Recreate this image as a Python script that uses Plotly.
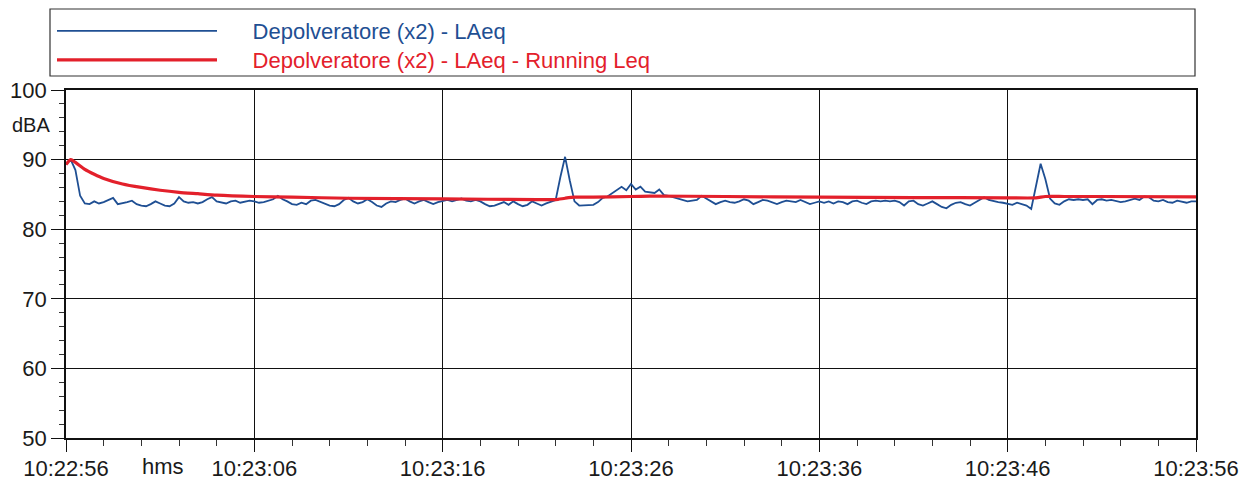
import datetime as dt
import plotly.graph_objects as go

START = dt.datetime(2024, 1, 1, 10, 22, 56)

# Depolveratore (x2) - LAeq, sampled every 0.25 s (dBA)
laeq_step_s = 0.25
laeq_values = [
    89.3, 90.0, 88.5, 84.8, 83.7, 83.6, 84.0, 83.7,
    83.9, 84.2, 84.5, 83.6, 83.7, 83.9, 84.1, 83.6,
    83.4, 83.3, 83.6, 84.0, 83.7, 83.4, 83.3, 83.7,
    84.6, 84.0, 83.8, 83.9, 83.7, 83.9, 84.3, 84.6,
    84.0, 83.8, 83.7, 84.0, 84.1, 83.8, 83.9, 84.1,
    84.0, 83.8, 83.9, 84.1, 84.3, 84.8, 84.3, 84.0,
    83.6, 83.5, 83.8, 83.6, 84.1, 84.2, 83.9, 83.7,
    83.4, 83.3, 83.6, 84.2, 84.5, 84.0, 83.7, 83.9,
    84.3, 83.9, 83.4, 83.2, 83.7, 84.0, 83.9, 84.2,
    84.4, 84.0, 83.7, 84.0, 84.2, 83.9, 83.6, 83.9,
    84.1, 84.2, 84.0, 84.2, 84.4, 84.1, 84.0, 84.2,
    84.0, 83.6, 83.3, 83.4, 83.7, 83.9, 83.5, 84.0,
    83.6, 83.3, 83.5, 84.0, 83.7, 83.4, 83.7, 84.0,
    84.2, 87.5, 90.4, 87.0, 84.0, 83.4, 83.4, 83.4,
    83.5, 83.9, 84.5, 84.7, 85.2, 85.6, 86.1, 85.6,
    86.5, 85.7, 86.1, 85.4, 85.3, 85.2, 85.7, 84.9,
    84.8, 84.6, 84.3, 84.1, 84.0, 84.1, 84.2, 84.8,
    84.4, 83.9, 83.6, 83.9, 84.1, 83.9, 83.8, 84.0,
    84.3, 84.1, 83.6, 83.9, 84.2, 84.1, 83.8, 83.6,
    83.9, 84.1, 84.0, 83.9, 84.2, 83.9, 83.6, 83.8,
    84.0, 83.8, 84.0, 83.7, 84.0, 83.9, 83.6, 84.0,
    84.1, 83.8, 83.6, 84.0, 84.1, 84.0, 84.1, 84.0,
    84.1, 83.9, 83.4, 84.0, 84.1, 83.6, 83.4, 83.7,
    84.0, 83.6, 83.2, 83.0, 83.5, 83.8, 83.9, 83.6,
    83.4, 83.8, 84.2, 84.6, 84.2, 84.0, 83.9, 83.8,
    83.6, 83.5, 83.8, 83.6, 83.4, 82.9, 86.0, 89.4,
    87.2, 84.4, 83.7, 83.5, 84.0, 84.3, 84.2, 84.3,
    84.2, 84.3, 83.6, 84.2, 84.3, 84.1, 84.2, 84.0,
    83.9, 84.0, 84.2, 84.4, 84.2, 84.7, 84.6, 84.1,
    84.0, 84.2, 83.9, 83.8, 84.1, 83.9, 83.8, 84.0,
    84.0,
]

# Depolveratore (x2) - LAeq - Running Leq (seconds from start, dBA)
leq_seconds = [0, 0.25, 0.5, 1, 1.5, 2, 3, 4, 5, 6, 7, 8, 10, 12, 15, 20, 25,
               26, 26.5, 27, 28, 30, 31, 35, 40, 45, 50, 51.5, 52, 53, 55, 60]
leq_values = [89.3, 90.0, 89.6, 88.6, 87.9, 87.3, 86.5, 86.0, 85.6, 85.3, 85.1,
              84.9, 84.7, 84.6, 84.45, 84.35, 84.25, 84.25, 84.45, 84.6, 84.6,
              84.7, 84.75, 84.7, 84.6, 84.55, 84.5, 84.5, 84.7, 84.7, 84.7, 84.65]

legend_names = ["Depolveratore (x2) - LAeq", "Depolveratore (x2) - LAeq - Running Leq"]
y_title = "dBA"
x_unit = "hms"

laeq_times = [START + dt.timedelta(seconds=i * laeq_step_s) for i in range(len(laeq_values))]
leq_times = [START + dt.timedelta(seconds=s) for s in leq_seconds]

FONT = "Liberation Sans, Arial, sans-serif"
BLUE = "#1f4f93"
RED = "#e3202b"
TXT = "#1a1a1a"
FS = 22

fig = go.Figure()
fig.add_trace(go.Scatter(
    x=laeq_times, y=laeq_values, mode="lines", name="\u00a0" * 5 + legend_names[0],
    line=dict(color=BLUE, width=1.8), legend="legend", showlegend=True,
))
fig.add_trace(go.Scatter(
    x=leq_times, y=leq_values, mode="lines", name="\u00a0" * 5 + legend_names[1],
    line=dict(color=RED, width=3.2, shape="spline", smoothing=0.6), legend="legend2",
    showlegend=True,
))

# The page body adds an 8px offset; figure coordinates = page coordinates - 8
OFF = 8
W, H = 1248 - OFF, 481 - OFF
ML, MR, MT, MB = 66 - OFF, 52, 90 - OFF, 43
pw, ph = W - ML - MR, H - MT - MB


def px_x(px):
    return (px - OFF - ML) / pw


def px_y(py):
    return (H - MB - (py - OFF)) / ph


fig.update_layout(
    width=W, height=H,
    showlegend=True,
    margin=dict(l=ML, r=MR, t=MT, b=MB, autoexpand=False),
    paper_bgcolor="white", plot_bgcolor="white",
    font=dict(family=FONT, size=FS, color=TXT),
    legend=dict(x=px_x(52), y=px_y(31), xanchor="left", yanchor="middle",
                itemwidth=160, bgcolor="rgba(0,0,0,0)",
                font=dict(family=FONT, size=FS, color=BLUE)),
    legend2=dict(x=px_x(52), y=px_y(60), xanchor="left", yanchor="middle",
                 itemwidth=160, bgcolor="rgba(0,0,0,0)",
                 font=dict(family=FONT, size=FS, color=RED)),
    shapes=[dict(type="rect", xref="paper", yref="paper",
                 x0=px_x(50), x1=px_x(1195), y0=px_y(76), y1=px_y(9),
                 line=dict(color="#333", width=1.2), fillcolor="rgba(0,0,0,0)")],
    annotations=[
        dict(text=y_title, xref="paper", yref="y", x=px_x(52), y=95,
             xanchor="right", yanchor="middle", showarrow=False,
             font=dict(family=FONT, size=20, color=TXT)),
        dict(text=x_unit, xref="paper", yref="paper", x=px_x(163), y=px_y(466),
             xanchor="center", yanchor="middle", showarrow=False,
             font=dict(family=FONT, size=FS, color=TXT)),
    ],
)

fig.update_xaxes(
    type="date",
    range=[START, START + dt.timedelta(seconds=60)],
    tick0=START, dtick=10000, tickformat="%H:%M:%S",
    ticks="outside", ticklen=12, tickwidth=1.3, tickcolor="#111",
    showgrid=True, gridcolor="#111", gridwidth=1.4,
    showline=True, linecolor="#111", linewidth=1.6, mirror=True,
    zeroline=False, automargin=False,
    minor=dict(dtick=2000, tick0=START, ticks="outside", ticklen=6,
               tickcolor="#333", showgrid=False),
    tickfont=dict(family=FONT, size=FS, color=TXT),
    ticklabelstandoff=-2,
)
fig.update_yaxes(
    range=[50, 100], tick0=50, dtick=10,
    ticks="outside", ticklen=13, tickwidth=1.3, tickcolor="#111",
    showgrid=True, gridcolor="#111", gridwidth=1.4,
    showline=True, linecolor="#111", linewidth=1.6, mirror=True,
    zeroline=False, automargin=False,
    minor=dict(dtick=2, ticks="outside", ticklen=5, tickcolor="#333", showgrid=False),
    tickfont=dict(family=FONT, size=FS, color=TXT),
    ticklabelstandoff=0,
)

fig.write_html("out.html")
